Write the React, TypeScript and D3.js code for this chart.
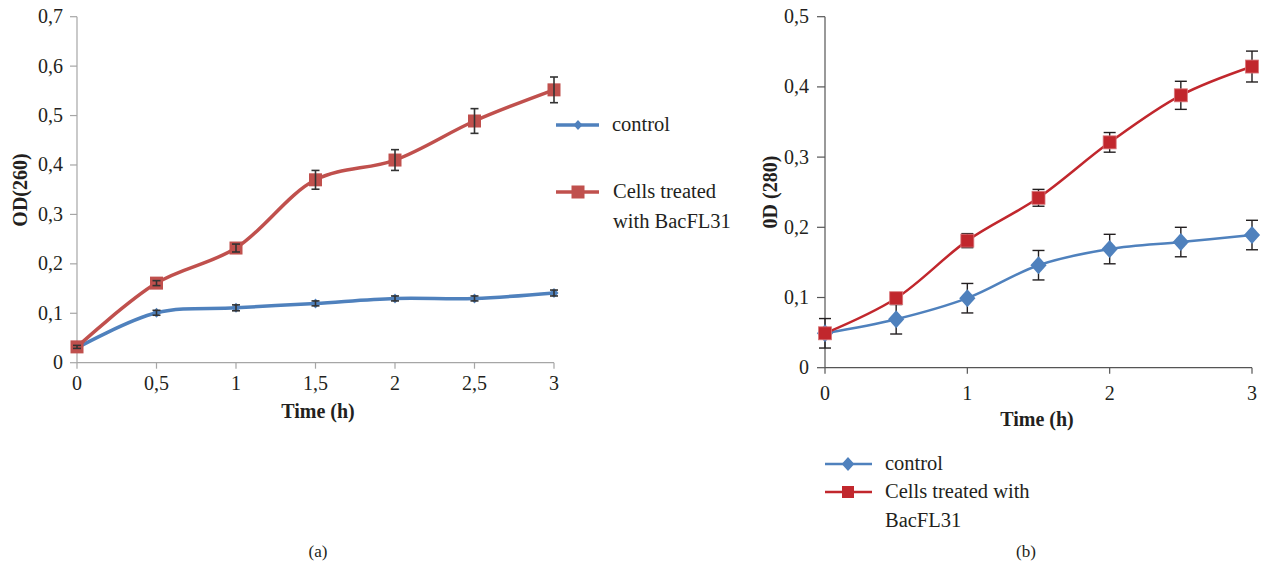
import React, { useEffect, useRef } from 'react';
import * as d3 from 'd3';

// panel (a) - OD(260)
const timesA = [0, 0.5, 1, 1.5, 2, 2.5, 3];
const controlA = [0.03, 0.101, 0.111, 0.12, 0.13, 0.13, 0.141];
const controlAErr = [0.003, 0.005, 0.006, 0.005, 0.005, 0.005, 0.006];
const treatedA = [0.032, 0.161, 0.232, 0.37, 0.41, 0.489, 0.552];
const treatedAErr = [0.003, 0.005, 0.008, 0.019, 0.021, 0.025, 0.026];
const xTicksA = ['0', '0,5', '1', '1,5', '2', '2,5', '3'];
const yTicksA = [0, 0.1, 0.2, 0.3, 0.4, 0.5, 0.6, 0.7];

// panel (b) - OD(280)
const timesB = [0, 0.5, 1, 1.5, 2, 2.5, 3];
const controlB = [0.049, 0.069, 0.099, 0.146, 0.169, 0.179, 0.189];
const controlBErr = [0.021, 0.021, 0.021, 0.021, 0.021, 0.021, 0.021];
const treatedB = [0.049, 0.099, 0.181, 0.242, 0.321, 0.388, 0.429];
const treatedBErr = [0.004, 0.005, 0.01, 0.012, 0.014, 0.02, 0.022];
const xTicksB = [0, 1, 2, 3];
const yTicksB = [0, 0.1, 0.2, 0.3, 0.4, 0.5];

const FONT = 'Liberation Serif';
const TICK = 20;
const LEG = 20.5;
const TITLE = 20;
const comma = (v: number) => (v === 0 ? '0' : d3.format('.1f')(v).replace('.', ','));

type Sel = d3.Selection<SVGGElement, unknown, null, undefined>;

// text helper: font set inline on every label
const label = (g: Sel, x: number, y: number, str: string, size: number, anchor = 'start', bold = false) => {
  const t = g.append('text').attr('x', x).attr('y', y).attr('text-anchor', anchor)
    .attr('font-size', size).attr('font-weight', bold ? 'bold' : 'normal').attr('fill', '#231f20')
    .text(str);
  (t.node() as SVGTextElement).style.fontFamily = FONT;
  return t;
};

const App = () => {
  const svgRef = useRef<SVGSVGElement>(null);

  useEffect(() => {
    if (!svgRef.current) return;
    const svg = d3.select(svgRef.current);
    svg.selectAll('*').remove();

    const diamond = (r: number) => `M0,${-r}L${r * 0.9},0L0,${r}L${-r * 0.9},0Z`;

    // ---------- panel (a) ----------
    const xA = d3.scaleLinear().domain([0, 3]).range([77, 554]);
    const yA = d3.scaleLinear().domain([0, 0.7]).range([362.7, 16.7]);
    const gA = svg.append('g') as unknown as Sel;

    gA.append('line').attr('x1', 77).attr('x2', 77).attr('y1', yA(0.7)).attr('y2', yA(0))
      .attr('stroke', '#a6a6a6').attr('stroke-width', 1.2);
    gA.append('line').attr('x1', 77).attr('x2', 554).attr('y1', yA(0)).attr('y2', yA(0))
      .attr('stroke', '#a6a6a6').attr('stroke-width', 1.2);
    yTicksA.forEach(t => {
      gA.append('line').attr('x1', 70).attr('x2', 77).attr('y1', yA(t)).attr('y2', yA(t))
        .attr('stroke', '#a6a6a6').attr('stroke-width', 1.2);
      label(gA, 63, yA(t) + 6.5, comma(t), TICK, 'end');
    });
    timesA.forEach((t, i) => {
      gA.append('line').attr('x1', xA(t)).attr('x2', xA(t)).attr('y1', yA(0)).attr('y2', yA(0) + 6)
        .attr('stroke', '#a6a6a6').attr('stroke-width', 1.2);
      label(gA, xA(t), 390, xTicksA[i], TICK, 'middle');
    });
    label(gA, 318, 418, 'Time (h)', TITLE, 'middle', true);
    label(gA, 0, 0, 'OD(260)', TITLE, 'middle', true).attr('transform', 'translate(27,190) rotate(-90)');

    const lineA = d3.line<number>().x((_, i) => xA(timesA[i])).curve(d3.curveCatmullRom.alpha(0.5));
    const seriesA = [
      { vals: controlA, err: controlAErr, color: '#4f81bd', marker: 'diamond' },
      { vals: treatedA, err: treatedAErr, color: '#c0504d', marker: 'square' },
    ];
    seriesA.forEach(s => {
      gA.append('path').attr('d', lineA.y(d => yA(d))(s.vals)).attr('fill', 'none')
        .attr('stroke', s.color).attr('stroke-width', 3.5);
    });
    seriesA.forEach(s => {
      s.vals.forEach((v, i) => {
        const cx = xA(timesA[i]);
        if (s.marker === 'square') {
          gA.append('rect').attr('x', cx - 6.5).attr('y', yA(v) - 6.5).attr('width', 13).attr('height', 13)
            .attr('fill', s.color);
        } else {
          gA.append('path').attr('transform', `translate(${cx},${yA(v)})`).attr('d', diamond(5))
            .attr('fill', s.color);
        }
        const y1 = yA(v + s.err[i]);
        const y2 = yA(v - s.err[i]);
        gA.append('line').attr('x1', cx).attr('x2', cx).attr('y1', y1).attr('y2', y2)
          .attr('stroke', '#333').attr('stroke-width', 1.6);
        [y1, y2].forEach(yy => gA.append('line').attr('x1', cx - 4).attr('x2', cx + 4).attr('y1', yy).attr('y2', yy)
          .attr('stroke', '#333').attr('stroke-width', 1.6));
      });
    });

    // legend (a)
    gA.append('line').attr('x1', 556).attr('x2', 599).attr('y1', 125).attr('y2', 125)
      .attr('stroke', '#4f81bd').attr('stroke-width', 3.5);
    gA.append('path').attr('transform', 'translate(578,125)').attr('d', diamond(5)).attr('fill', '#4f81bd');
    label(gA, 612, 131, 'control', LEG);
    gA.append('line').attr('x1', 556).attr('x2', 599).attr('y1', 192).attr('y2', 192)
      .attr('stroke', '#c0504d').attr('stroke-width', 3.5);
    gA.append('rect').attr('x', 571.5).attr('y', 185.5).attr('width', 13).attr('height', 13).attr('fill', '#c0504d');
    label(gA, 613, 198, 'Cells treated', LEG);
    label(gA, 613, 228, 'with BacFL31', LEG);
    label(gA, 318, 557, '(a)', 17, 'middle');

    // ---------- panel (b) ----------
    const xB = d3.scaleLinear().domain([0, 3]).range([825, 1252]);
    const yB = d3.scaleLinear().domain([0, 0.5]).range([367.7, 16.7]);
    const gB = svg.append('g') as unknown as Sel;
    const axisCol = '#555';

    gB.append('line').attr('x1', 825).attr('x2', 825).attr('y1', yB(0.5)).attr('y2', yB(0))
      .attr('stroke', axisCol).attr('stroke-width', 1.2);
    gB.append('line').attr('x1', 825).attr('x2', 1252).attr('y1', yB(0)).attr('y2', yB(0))
      .attr('stroke', axisCol).attr('stroke-width', 1.2);
    yTicksB.forEach(t => {
      gB.append('line').attr('x1', 817).attr('x2', 825).attr('y1', yB(t)).attr('y2', yB(t))
        .attr('stroke', axisCol).attr('stroke-width', 1.2);
      label(gB, 809, yB(t) + 6.5, comma(t), TICK, 'end');
    });
    xTicksB.forEach(t => {
      gB.append('line').attr('x1', xB(t)).attr('x2', xB(t)).attr('y1', yB(0)).attr('y2', yB(0) + 6)
        .attr('stroke', axisCol).attr('stroke-width', 1.2);
      label(gB, xB(t), 400, String(t), TICK, 'middle');
    });
    label(gB, 1037, 426, 'Time (h)', TITLE, 'middle', true);
    label(gB, 0, 0, '0D (280)', TITLE, 'middle', true).attr('transform', 'translate(777,192) rotate(-90)');

    const lineB = d3.line<number>().x((_, i) => xB(timesB[i])).curve(d3.curveCatmullRom.alpha(0.5));
    const seriesB = [
      { vals: controlB, err: controlBErr, color: '#4f81bd', marker: 'diamond' },
      { vals: treatedB, err: treatedBErr, color: '#c1272d', marker: 'square' },
    ];
    seriesB.forEach(s => {
      gB.append('path').attr('d', lineB.y(d => yB(d))(s.vals)).attr('fill', 'none')
        .attr('stroke', s.color).attr('stroke-width', 2.5);
    });
    seriesB.forEach(s => {
      s.vals.forEach((v, i) => {
        const cx = xB(timesB[i]);
        const y1 = yB(v + s.err[i]);
        const y2 = yB(v - s.err[i]);
        gB.append('line').attr('x1', cx).attr('x2', cx).attr('y1', y1).attr('y2', y2)
          .attr('stroke', '#231f20').attr('stroke-width', 1.4);
        [y1, y2].forEach(yy => gB.append('line').attr('x1', cx - 6).attr('x2', cx + 6).attr('y1', yy).attr('y2', yy)
          .attr('stroke', '#231f20').attr('stroke-width', 1.4));
        if (s.marker === 'square') {
          gB.append('rect').attr('x', cx - 6.5).attr('y', yB(v) - 6.5).attr('width', 13).attr('height', 13)
            .attr('fill', s.color).attr('stroke', '#d9777b').attr('stroke-width', 0.8);
        } else {
          gB.append('path').attr('transform', `translate(${cx},${yB(v)})`).attr('d', diamond(9))
            .attr('fill', s.color);
        }
      });
    });

    // legend (b)
    gB.append('line').attr('x1', 825).attr('x2', 872).attr('y1', 464).attr('y2', 464)
      .attr('stroke', '#4f81bd').attr('stroke-width', 2.5);
    gB.append('path').attr('transform', 'translate(848,464)').attr('d', diamond(7)).attr('fill', '#4f81bd');
    label(gB, 885, 470, 'control', LEG);
    gB.append('line').attr('x1', 825).attr('x2', 872).attr('y1', 492).attr('y2', 492)
      .attr('stroke', '#c1272d').attr('stroke-width', 2.5);
    gB.append('rect').attr('x', 842).attr('y', 486).attr('width', 12).attr('height', 12).attr('fill', '#c1272d');
    label(gB, 885, 498, 'Cells treated with', LEG);
    label(gB, 885, 527, 'BacFL31', LEG);
    label(gB, 1026, 557, '(b)', 17, 'middle');
  }, []);

  return (
    <div style={{ position: 'absolute', left: 0, top: 0 }}>
      <svg ref={svgRef} width={1267} height={567} style={{ display: 'block', background: '#fff' }} />
    </div>
  );
};

export default App;
